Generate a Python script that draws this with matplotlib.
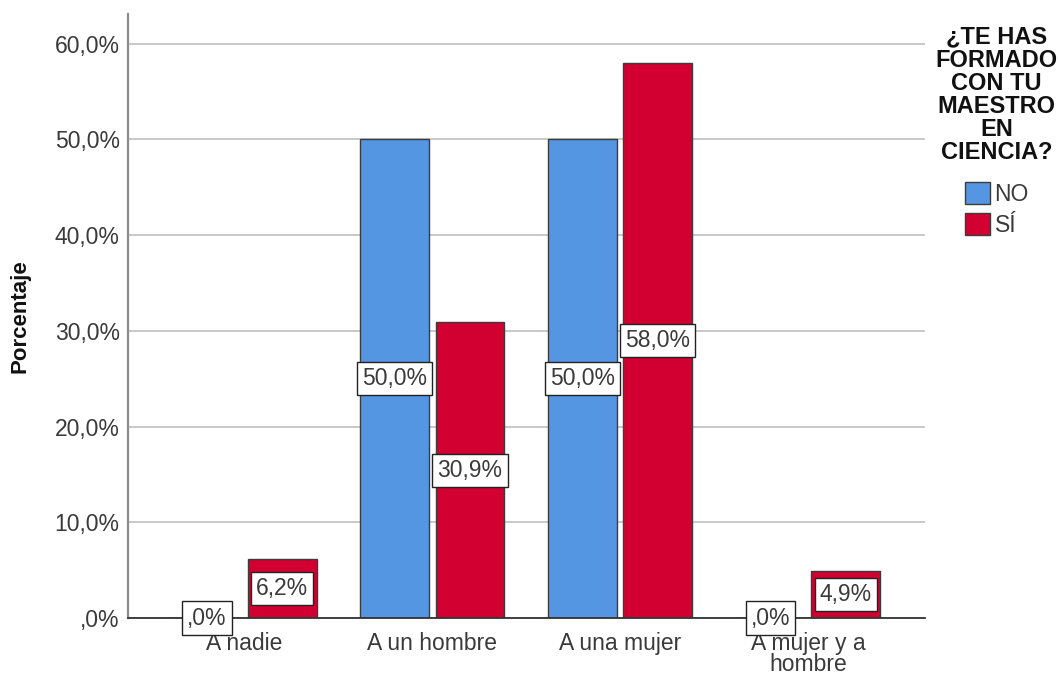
import numpy as np
import matplotlib
matplotlib.use("Agg")
from matplotlib import pyplot as plt

plt.rcParams['font.family'] = ['Liberation Sans', 'DejaVu Sans']

categories = ["A nadie", "A un hombre", "A una mujer", "A mujer y a\nhombre"]
no_values = [0.0, 50.0, 50.0, 0.0]
si_values = [6.2, 30.9, 58.0, 4.9]
series_names = ["NO", "SÍ"]
y_ticks = [0, 10, 20, 30, 40, 50, 60]
legend_title = "¿TE HAS\nFORMADO\nCON TU\nMAESTRO\nEN\nCIENCIA?"

blue = "#5596E2"
red = "#D20030"
text_col = "#3a3a3a"


def pct(v):
    s = f"{v:.1f}%".replace(".", ",")
    if s.startswith("0"):
        s = s[1:]
    return s


fig = plt.figure(figsize=(10.58, 6.75), dpi=100)
ax = fig.add_axes([0.121, 0.0844, 0.753, 0.8948])

x = np.arange(len(categories))
w = 0.367
off = 0.2
bars_no = ax.bar(x - off, no_values, w, color=blue, edgecolor="#3c3c3c", linewidth=1.0, zorder=2, label=series_names[0])
bars_si = ax.bar(x + off, si_values, w, color=red, edgecolor="#3c3c3c", linewidth=1.0, zorder=2, label=series_names[1])

for bars, vals in [(bars_no, no_values), (bars_si, si_values)]:
    for b, v in zip(bars, vals):
        ax.text(b.get_x() + b.get_width() / 2, v / 2, pct(v), ha="center", va="center",
                fontsize=16.5, color=text_col, zorder=5, clip_on=False,
                bbox=dict(boxstyle="square,pad=0.22", facecolor="white", edgecolor="#222222", linewidth=1.0))

ax.set_xlim(-0.62, 3.62)
ax.set_ylim(0, 63.1)
ax.set_yticks(y_ticks)
ax.set_yticklabels([pct(t) for t in y_ticks])
ax.set_xticks(x)
ax.set_xticklabels(categories, linespacing=0.88)
ax.tick_params(axis="both", length=0, labelsize=16.5, colors=text_col)
ax.tick_params(axis="y", pad=6)
ax.tick_params(axis="x", pad=10)

ax.yaxis.grid(True, color="#c8c8c8", linewidth=1.4, zorder=0)
ax.set_axisbelow(True)
for s in ["top", "right"]:
    ax.spines[s].set_visible(False)
ax.spines["left"].set_color("#8c8c8c")
ax.spines["left"].set_linewidth(1.6)
ax.spines["bottom"].set_color("#333333")
ax.spines["bottom"].set_linewidth(1.3)
ax.spines["bottom"].set_zorder(3)

ax.set_ylabel("Porcentaje", fontsize=16, fontweight="bold", color="#111111")
ax.yaxis.set_label_coords(-0.122, 0.5)

fig.text(0.942, 0.962, legend_title, ha="center", va="top", fontsize=17, fontweight="bold",
         linespacing=1.0, color="#111111")
leg = fig.legend(handles=[bars_no, bars_si], labels=series_names, loc="upper left",
                 bbox_to_anchor=(0.901, 0.747), frameon=False, fontsize=16.5,
                 handlelength=1.1, handleheight=1.1, handletextpad=0.2, labelspacing=0.3,
                 borderpad=0.0)
for t in leg.get_texts():
    t.set_color(text_col)

fig.savefig("out.png", dpi=100)
